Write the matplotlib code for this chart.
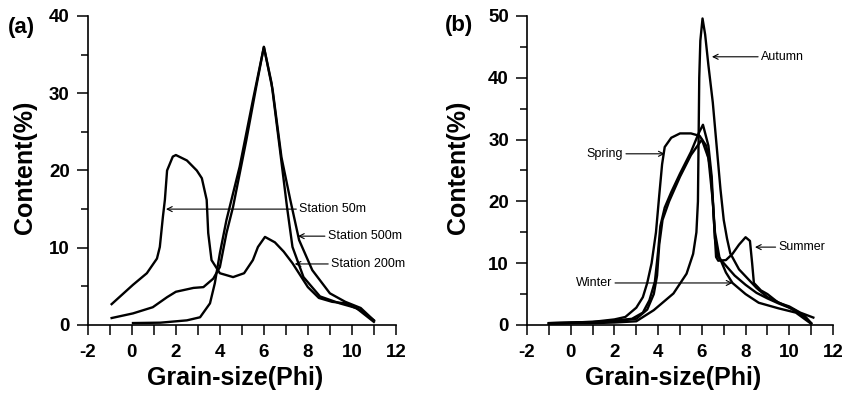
import matplotlib
matplotlib.use("Agg")
import matplotlib.pyplot as plt
from matplotlib.ticker import MultipleLocator

plt.rcParams['font.family'] = ['Liberation Sans', 'DejaVu Sans']
plt.rcParams['axes.unicode_minus'] = False

# (a) stations - grain size (phi) vs content (%)
st50_x = [-0.92, 0.05, 0.68, 1.14, 1.27, 1.41, 1.5, 1.6, 1.86, 2.0, 2.5, 2.95, 3.18, 3.4, 3.47, 3.62,
          4.0, 4.6, 5.1, 5.5, 5.73, 6.05, 6.5, 6.9, 7.3, 8.0, 8.5, 9.1, 9.7, 10.4, 11.0]
st50_y = [2.7, 5.2, 6.7, 8.6, 10.1, 14.0, 16.2, 20.0, 21.8, 22.0, 21.3, 20.0, 19.0, 16.2, 11.9, 8.4,
          6.7, 6.2, 6.7, 8.4, 10.1, 11.4, 10.7, 9.5, 8.0, 4.9, 3.5, 3.0, 2.8, 1.9, 0.6]

st500_x = [-0.92, 0.05, 0.95, 1.6, 2.0, 2.8, 3.25, 3.7, 4.0, 4.3, 4.6, 5.2, 5.65, 6.0, 6.4, 6.8,
           7.2, 7.6, 8.2, 9.0, 9.7, 10.4, 11.0]
st500_y = [0.9, 1.5, 2.3, 3.6, 4.3, 4.8, 4.9, 6.0, 7.5, 11.9, 15.3, 23.9, 30.8, 36.0, 30.4, 21.7,
           16.2, 11.0, 7.1, 4.1, 3.0, 2.2, 0.6]

st200_x = [0.05, 1.3, 2.5, 3.1, 3.55, 3.77, 4.0, 4.3, 4.9, 5.5, 6.0, 6.35, 6.73, 7.05, 7.3, 7.8,
           8.55, 9.45, 10.2, 11.0]
st200_y = [0.25, 0.3, 0.6, 1.0, 2.8, 5.4, 9.3, 13.6, 20.5, 29.1, 36.0, 31.3, 22.7, 15.3, 10.1, 6.2,
           3.7, 2.8, 2.2, 0.4]

# (b) seasons
spring_x = [-1, 0, 1, 2, 2.5, 3.0, 3.3, 3.5, 3.7, 3.9, 4.05, 4.18, 4.3, 4.6, 5.0, 5.5, 5.9, 6.2,
            6.4, 6.5, 6.6, 6.75, 7.0, 7.5, 8.0, 8.5, 9.0, 9.5, 10.0, 10.5, 11.0]
spring_y = [0.3, 0.4, 0.5, 0.9, 1.3, 2.8, 4.5, 6.8, 10, 15, 21, 26, 28.8, 30.3, 31, 31, 30.6, 29,
            25, 20, 14, 11, 10, 8, 6.5, 5.2, 4.3, 3.5, 2.8, 1.8, 0.3]

summer_x = [-1, 0, 1, 2, 2.8, 3.3, 3.6, 3.85, 4.0, 4.1, 4.3, 4.6, 5.0, 5.5, 5.85, 6.05, 6.3, 6.45,
            6.55, 6.65, 6.75, 7.1, 7.4, 7.7, 8.0, 8.2, 8.3, 8.38, 8.7, 9.0, 9.5, 10.0, 10.5, 11.1]
summer_y = [0.3, 0.4, 0.5, 0.7, 1.0, 2.0, 4.0, 7.0, 12, 16, 19, 21.5, 24.5, 28, 31, 32.4, 29, 24,
            17, 11, 10.4, 10.5, 11.5, 13, 14.2, 13.6, 10, 6.8, 5.6, 5.0, 3.6, 3.0, 2.0, 1.2]

autumn_x = [-1, 0, 1, 2, 3, 3.8, 4.7, 5.3, 5.6, 5.75, 5.82, 5.85, 5.88, 5.93, 6.03, 6.15, 6.3, 6.5,
            6.7, 6.85, 7.0, 7.15, 7.3, 7.7, 8.1, 8.5, 9.0, 9.6, 10.2, 10.7, 11.0]
autumn_y = [0.2, 0.3, 0.3, 0.4, 0.6, 2.4, 5.1, 8.3, 11.5, 15, 20, 30, 40, 46, 49.6, 47, 42, 36,
            28, 22, 17, 14, 11.6, 9, 7.5, 6, 4.5, 3.5, 2.5, 1.5, 0.3]

winter_x = [-1, 0, 1, 2, 3, 3.5, 3.8, 3.95, 4.05, 4.2, 4.5, 5.0, 5.5, 6.0, 6.3, 6.5, 6.6, 6.8,
            7.1, 7.4, 8.0, 8.6, 9.5, 10.3, 11.0]
winter_y = [0.2, 0.3, 0.4, 0.6, 1.0, 2.5, 5, 8, 13, 17, 20, 24, 27.5, 30, 27, 20, 15, 11,
            8.5, 6.8, 5.0, 3.6, 2.7, 2.0, 0.2]

fig = plt.figure(figsize=(8.45, 3.97), dpi=100)
ax_a = fig.add_axes([0.104, 0.1814, 0.3645, 0.7783])
ax_b = fig.add_axes([0.6237, 0.1814, 0.3621, 0.7783])

lw = 1.7
ax_a.plot(st50_x, st50_y, color='black', lw=lw, clip_on=False)
ax_a.plot(st500_x, st500_y, color='black', lw=lw, clip_on=False)
ax_a.plot(st200_x, st200_y, color='black', lw=lw, clip_on=False)

ax_b.plot(spring_x, spring_y, color='black', lw=lw, clip_on=False)
ax_b.plot(summer_x, summer_y, color='black', lw=lw, clip_on=False)
ax_b.plot(autumn_x, autumn_y, color='black', lw=lw, clip_on=False)
ax_b.plot(winter_x, winter_y, color='black', lw=lw, clip_on=False)

arrow = dict(arrowstyle='->', lw=0.8, color='black', shrinkA=0, shrinkB=0)

def note(ax, text, head, pos, left=True):
    ax.annotate(text, xy=head, xytext=pos, fontsize=9, va='center',
                ha='left' if left else 'right',
                arrowprops=dict(arrow, relpos=(0, 0.5) if left else (1, 0.5)))

note(ax_a, 'Station 50m', (1.55, 15.0), (7.6, 15.0))
note(ax_a, 'Station 500m', (7.55, 11.5), (8.9, 11.5))
note(ax_a, 'Station 200m', (7.4, 7.9), (9.05, 7.9))

note(ax_b, 'Autumn', (6.46, 43.4), (8.7, 43.4))
note(ax_b, 'Summer', (8.43, 12.6), (9.5, 12.6))
note(ax_b, 'Spring', (4.3, 27.7), (2.4, 27.7), left=False)
note(ax_b, 'Winter', (7.4, 6.8), (1.9, 6.8), left=False)

for ax, ymax in ((ax_a, 40), (ax_b, 50)):
    ax.set_xlim(-2, 12)
    ax.set_ylim(0, ymax)
    ax.spines['top'].set_visible(False)
    ax.spines['right'].set_visible(False)
    ax.spines['left'].set_linewidth(1.2)
    ax.spines['bottom'].set_linewidth(1.2)
    ax.xaxis.set_major_locator(MultipleLocator(2))
    ax.xaxis.set_minor_locator(MultipleLocator(1))
    ax.yaxis.set_major_locator(MultipleLocator(10))
    ax.yaxis.set_minor_locator(MultipleLocator(5))
    ax.tick_params(axis='x', which='both', direction='out', length=7, width=1.1,
                   labelsize=13.5, pad=7)
    ax.tick_params(axis='y', which='major', direction='out', length=8, width=1.1,
                   labelsize=13.5, pad=5)
    ax.tick_params(axis='y', which='minor', direction='out', length=5, width=1.1)
    for lab in ax.get_xticklabels() + ax.get_yticklabels():
        lab.set_fontweight('bold')

ax_a.text(-0.2045, 0.511, 'Content(%)', transform=ax_a.transAxes, rotation=90,
          ha='center', va='center', fontsize=18, fontweight='bold')
ax_b.text(-0.2255, 0.511, 'Content(%)', transform=ax_b.transAxes, rotation=90,
          ha='center', va='center', fontsize=18, fontweight='bold')
ax_a.text(0.477, -0.17, 'Grain-size(Phi)', transform=ax_a.transAxes,
          ha='center', va='center', fontsize=18, fontweight='bold')
ax_b.text(0.479, -0.17, 'Grain-size(Phi)', transform=ax_b.transAxes,
          ha='center', va='center', fontsize=18, fontweight='bold')

fig.text(21 / 845, 1 - 27 / 397, '(a)', ha='center', va='center', fontsize=16, fontweight='bold')
fig.text(459 / 845, 1 - 25 / 397, '(b)', ha='center', va='center', fontsize=16, fontweight='bold')

fig.savefig('out.png', dpi=100)
